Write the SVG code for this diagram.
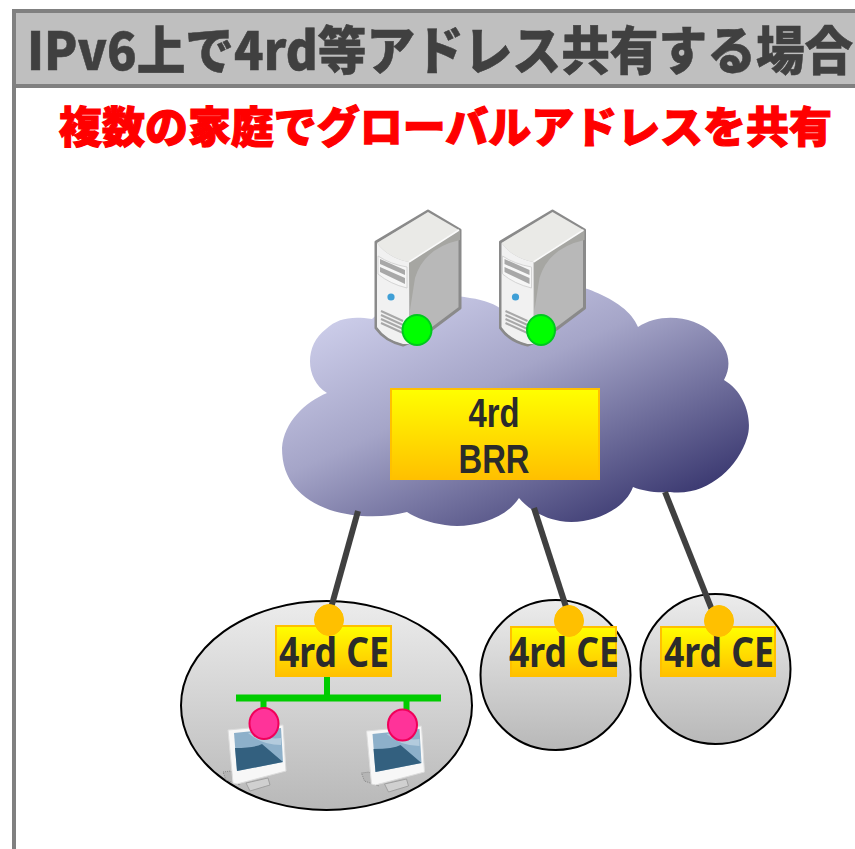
<svg xmlns="http://www.w3.org/2000/svg" width="855" height="849" viewBox="0 0 855 849">
<defs>
<linearGradient id="cloudG" x1="0.1" y1="0.1" x2="0.85" y2="0.95"><stop offset="0" stop-color="#cfd0ec"/><stop offset="0.4" stop-color="#a5a5c8"/><stop offset="1" stop-color="#35336c"/></linearGradient>
<linearGradient id="boxG" x1="0" y1="0" x2="0" y2="1"><stop offset="0" stop-color="#ffff00"/><stop offset="1" stop-color="#ffc000"/></linearGradient>
<linearGradient id="ellG" x1="0" y1="0" x2="0" y2="1"><stop offset="0" stop-color="#ececec"/><stop offset="1" stop-color="#b8b8b8"/></linearGradient>
<style>
.ttl{font-family:"Noto Sans CJK JP","Liberation Sans",sans-serif;font-weight:900}
.lbl{font-family:"Noto Sans","Liberation Sans",sans-serif;font-weight:700;fill:#2b2b2b;text-anchor:middle}
.lbl2{font-family:"Liberation Sans","Noto Sans",sans-serif;font-weight:700;fill:#2b2b2b;text-anchor:middle}
.box{fill:url(#boxG);stroke:#ffc000;stroke-width:2}
.site{fill:url(#ellG);stroke:#000;stroke-width:2}
.port{fill:#ffc000;stroke:#ffc000;stroke-width:1}
.host{fill:#ff3399;stroke:#f0005a;stroke-width:2}
.green{fill:#00ff00;stroke:#00c81e;stroke-width:2}
.bus{stroke:#00cc00;fill:none}
.link{stroke:#404040;stroke-width:6;fill:none}
</style>
<g id="srv">
<path d="M376 242 L428 211 L460 230 V308 L420 338 L403 345 Q385 341 376 328 Z" fill="#b8b8b8" stroke="#8a8a8a" stroke-width="3" stroke-linejoin="round"/>
<path d="M409 262 L460 230 V240 Q424 248 415 278 L410 310 Z" fill="#a6a6a2"/>
<path d="M377 243 L428 212 L459 230 L409 262 Q388 258 377 243 Z" fill="#eaeae7"/>
<path d="M409 262 L459 230" stroke="#fafafa" stroke-width="1.500"/>
<path d="M377 243 Q388 258 409 262 V344 L403 344 Q386 340 377 327 Z" fill="#f1f1f1"/>
<path d="M378 256 Q390 264 407 267 V288 Q390 284 378 274 Z" fill="#f6f6f6" stroke="#d4d4d4"/>
<path d="M380 259 L405 270 V275 L380 264 Z M380 267 L405 278 V284 L380 272 Z" fill="#a8a8a8"/>
<circle cx="391" cy="297" r="3.600" fill="#3f9fd6"/>
<path d="M381 311 L403 321 M381 315 L403 325 M381 319 L403 329 M381 323 L403 333" stroke="#a8a8a8" stroke-width="2"/>
</g>
<g id="mon">
<path d="M223 772 L231 771 L240 785 L226 780 Z" fill="#b5b5b5" stroke="#888" stroke-dasharray="1 1"/>
<path d="M246 783 L268 778 L270 785 L250 791 Z" fill="#d0d0d0" stroke="#a0a0a0"/>
<path d="M228 730 L283 725 L286 771 L237 784 L233 783 Z" fill="#f7f7f7" stroke="#dcdcdc"/>
<path d="M234 733 L281 728 L283 762 L237 771 Z" fill="#8db0ca"/>
<path d="M235 748 Q255 748 262 744 L283 762 L237 771 Z" fill="#33607f"/>
<path d="M248 733 Q262 745 281 745 L281 738 Q266 740 258 732 Z" fill="#b3cbdd"/>
</g>
</defs>
<rect x="14" y="11" width="860" height="75" fill="#bfbfbf" stroke="#808080" stroke-width="4"/>
<path d="M14 86 V849" stroke="#808080" stroke-width="4" fill="none"/>
<text class="ttl" transform="translate(27,70) scale(0.974,1.04)" font-size="50" fill="#404040" stroke="#404040" stroke-width="0.500">IPv6上で4rd等アドレス共有する場合</text>
<text class="ttl" x="59" y="143" font-size="43" fill="#ff0000" stroke="#ff0000" stroke-width="1.200" textLength="773" lengthAdjust="spacingAndGlyphs">複数の家庭でグローバルアドレスを共有</text>

<g id="cloud"><path d="M327 393 C305 380 304 345 326 329 C338 318 352 316 372 319 C395 298 440 292 470 298 C485 300 495 304 504 311 C525 286 570 280 595 292 C615 300 632 312 638 327 C660 312 695 316 712 333 C728 346 733 364 724 380 C745 392 753 420 747 438 C738 468 706 497 670 492 C655 493 643 491 633 487 C625 510 590 526 560 521 C543 518 528 509 519 498 C505 520 470 529 445 525 C430 523 416 518 407 512 C385 518 355 518 330 510 C300 499 282 480 282 448 C284 422 305 402 327 393 Z" fill="url(#cloudG)"/></g>
<g id="server-1"><use href="#srv"/><ellipse class="green" cx="417" cy="330" rx="14.500" ry="15"/></g>
<g id="server-2"><use href="#srv" x="124.500"/><ellipse class="green" cx="541" cy="330" rx="14" ry="15"/></g>
<g id="brr"><rect class="box" x="391" y="389" width="208" height="90"/><text class="lbl2" transform="translate(494,0) scale(0.82,1)" font-size="40"><tspan x="0" y="427">4rd</tspan><tspan x="0" y="473">BRR</tspan></text></g>

<g id="site-1"><ellipse class="site" cx="326.500" cy="705.500" rx="145.500" ry="104.500"/></g>
<g id="site-2"><circle class="site" cx="555.500" cy="675" r="75"/></g>
<g id="site-3"><circle class="site" cx="715.500" cy="669" r="75"/></g>

<g id="connectors">
<path class="link" d="M358 511 L331 608"/>
<path class="link" d="M534 508 L567 610"/>
<path class="link" d="M665 492 L712 610"/>
<path class="bus" stroke-width="7" d="M236 698 H441"/>
<path class="bus" stroke-width="6" d="M327 676 V698 M263.500 698 V712 M406.500 698 V712"/>
</g>

<g id="ce-1"><rect class="box" x="276" y="626" width="115" height="50"/><text class="lbl" x="334" y="667" font-size="42" textLength="110" lengthAdjust="spacingAndGlyphs">4rd CE</text><ellipse class="port" cx="329" cy="620" rx="14.500" ry="15.500"/></g>
<g id="ce-2"><rect class="box" x="511" y="627" width="105" height="49"/><text class="lbl" x="564" y="667" font-size="42" textLength="110" lengthAdjust="spacingAndGlyphs">4rd CE</text><ellipse class="port" cx="569" cy="621" rx="14.500" ry="15.500"/></g>
<g id="ce-3"><rect class="box" x="661" y="627" width="114" height="49"/><text class="lbl" x="719" y="667" font-size="42" textLength="110" lengthAdjust="spacingAndGlyphs">4rd CE</text><ellipse class="port" cx="719" cy="621" rx="14.500" ry="15.500"/></g>

<g id="pc-1"><use href="#mon"/><ellipse class="host" cx="264" cy="723.500" rx="14.500" ry="15.500"/></g>
<g id="pc-2"><use href="#mon" x="138.500" y="1"/><ellipse class="host" cx="402.500" cy="725" rx="14.500" ry="15.500"/></g>
</svg>
